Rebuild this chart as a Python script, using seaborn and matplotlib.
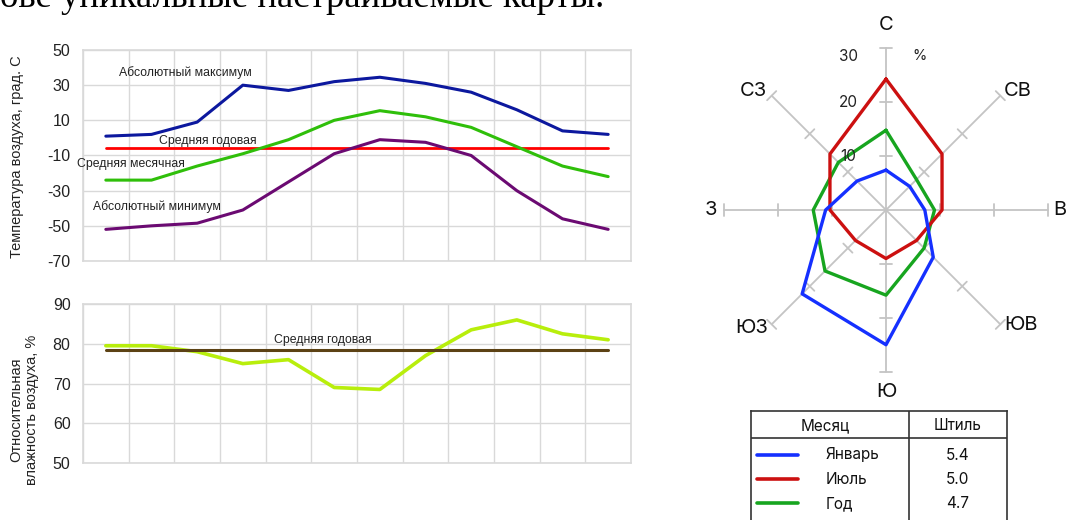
import numpy as np
import matplotlib
matplotlib.use("Agg")
import matplotlib.pyplot as plt
import seaborn as sns

# ---------------- data ----------------
months = list(range(1, 13))
abs_max = [1, 2, 9, 30, 27, 32, 34.5, 31, 26, 16, 4, 2]
mean_monthly = [-24, -24, -16, -9, -1, 10, 15.5, 12, 6, -5, -16, -22]
abs_min = [-52, -50, -48.5, -41, -25, -9, -1, -2.5, -10, -30, -46, -52]
annual_mean_temp = -6
humidity = [79.5, 79.5, 78, 75, 76, 69, 68.5, 77, 83.5, 86, 82.5, 81]
annual_mean_humidity = 78.5
temp_ticks = [-70, -50, -30, -10, 10, 30, 50]
hum_ticks = [50, 60, 70, 80, 90]

directions = ["С", "СВ", "В", "ЮВ", "Ю", "ЮЗ", "З", "СЗ"]
wind_jan = [7.4, 6.2, 7.2, 12.4, 25, 22, 11.2, 7.6]
wind_jul = [24.3, 14.7, 10.4, 8, 9, 8, 10.4, 14.7]
wind_year = [14.8, 8, 9, 10, 15.8, 16, 13.5, 12.5]
radar_ticks = [10, 20, 30]
calm_labels = ["Январь", "Июль", "Год"]
calm_values = ["5.4", "5.0", "4.7"]

# ---------------- setup ----------------
sns.set_style("white")
plt.rcParams["font.family"] = ["Liberation Sans", "DejaVu Sans"]

W, H = 1067, 520
fig = plt.figure(figsize=(W / 100, H / 100), dpi=100)


def rect(l, t, r, b):
    return [l / W, 1 - b / H, (r - l) / W, (b - t) / H]


GRID = "#d9d9d9"


def style_axes(ax, yticks):
    ax.set_xlim(0.5, 12.5)
    ax.set_xticks(np.arange(0.5, 12.6, 1))
    ax.set_xticklabels([])
    ax.set_yticks(yticks)
    ax.set_yticklabels([str(t) for t in yticks], fontsize=11.5, color="#222222")
    ax.tick_params(axis="both", length=0, pad=9)
    ax.grid(True, color=GRID, lw=1)
    for s in ax.spines.values():
        s.set_color(GRID)
        s.set_linewidth(1.2)
    ax.set_xlabel("")
    ax.set_ylabel("")


# ---------------- temperature chart ----------------
ax1 = fig.add_axes(rect(83, 50, 631, 261))
sns.lineplot(x=[months[0], months[-1]], y=[annual_mean_temp] * 2, ax=ax1,
             color="#ff0000", lw=2.0)
sns.lineplot(x=months, y=abs_max, ax=ax1, color="#0c189e", lw=2.2)
sns.lineplot(x=months, y=mean_monthly, ax=ax1, color="#2fbf0a", lw=2.2)
sns.lineplot(x=months, y=abs_min, ax=ax1, color="#6b0a72", lw=2.2)
ax1.set_ylim(-70, 50)
style_axes(ax1, temp_ticks)
lab_kw = dict(fontsize=8.8, color="#222222", ha="center", va="center")
ax1.text(2.75, 37, "Абсолютный максимум", **lab_kw)
ax1.text(3.23, -2, "Средняя годовая", **lab_kw)
ax1.text(1.55, -14.8, "Средняя месячная", **lab_kw)
ax1.text(2.12, -39.1, "Абсолютный минимум", **lab_kw)
fig.text(17 / W, 1 - 157 / H, "Температура воздуха, град. С", rotation=90,
         ha="center", va="center", fontsize=10.5, color="#222222")

# ---------------- humidity chart ----------------
ax2 = fig.add_axes(rect(83, 304, 631, 463))
sns.lineplot(x=months, y=humidity, ax=ax2, color="#b8ee0c", lw=2.6)
sns.lineplot(x=[months[0], months[-1]], y=[annual_mean_humidity] * 2, ax=ax2,
             color="#5c4214", lw=2.2)
ax2.set_ylim(50, 90)
style_axes(ax2, hum_ticks)
ax2.text(5.75, 80.9, "Средняя годовая", **lab_kw)
fig.text(24 / W, 1 - 410 / H, "Относительная\nвлажность воздуха, %", rotation=90,
         ha="center", va="center", fontsize=10.5, color="#222222",
         multialignment="center", linespacing=1.2)

# ---------------- wind rose ----------------
cx, cy, R = 886, 210, 161.7
ax3 = fig.add_axes(rect(cx - R, cy - R, cx + R, cy + R), projection="polar")
ax3.set_theta_zero_location("N")
ax3.set_theta_direction(-1)
ax3.set_ylim(0, 30)
ax3.set_axis_off()
angles = list(np.deg2rad(np.arange(0, 360, 45)))
SPOKE = "#c4c4c4"
h = 1.2
for th in angles:
    ax3.plot([th, th], [0, 30], color=SPOKE, lw=1.3, clip_on=False)
    for r in radar_ticks:
        d = np.arctan(h / r)
        rr = np.hypot(r, h)
        ax3.plot([th - d, th + d], [rr, rr], color=SPOKE, lw=1.3, clip_on=False)

theta_closed = angles + [angles[0] + 2 * np.pi]
for vals, col in [(wind_year, "#17a51f"), (wind_jul, "#cc1010"), (wind_jan, "#1530ff")]:
    sns.lineplot(x=theta_closed, y=vals + [vals[0]], ax=ax3, sort=False,
                 estimator=None, color=col, lw=2.4)

label_pos = [(0, 34.3), (48, 33), (90, 32.2), (130.4, 32.9), (180, 33.8),
             (228.8, 33.2), (270, 32.5), (312, 33)]
for name, (adeg, rr) in zip(directions, label_pos):
    ax3.text(np.deg2rad(adeg), rr, name, ha="center", va="center",
             fontsize=14.5, color="#111111", family=["Inter", "DejaVu Sans"])
tick_offsets = {10: 0, 20: 0, 30: -8}
for t in radar_ticks:
    ax3.annotate(str(t), xy=(0, t), xytext=(-38, tick_offsets[t]),
                 textcoords="offset pixels", ha="center", va="center",
                 fontsize=11, color="#222222", family=["Inter", "DejaVu Sans"])
ax3.annotate("%", xy=(0, 30), xytext=(33, -8), textcoords="offset pixels",
             ha="center", va="center", fontsize=10.5, color="#222222",
             family=["Inter", "DejaVu Sans"])

# ---------------- calm table ----------------
tl, tt, tr, tb = 750.7, 410.7, 1006.7, 540
ax4 = fig.add_axes(rect(tl, tt, tr, tb))
ax4.set_xlim(0, tr - tl)
ax4.set_ylim(tb - tt, 0)
ax4.set_xticks([])
ax4.set_yticks([])
for s in ax4.spines.values():
    s.set_color("#333333")
    s.set_linewidth(1.2)
ax4.axhline(27.6, color="#333333", lw=1.2)
ax4.axvline(158.6, color="#333333", lw=1.2)
tkw = dict(fontsize=11, color="#111111", va="center", family=["Inter", "DejaVu Sans"])
ax4.text(74.3, 15, "Месяц", ha="center", **tkw)
ax4.text(207, 15, "Штиль", ha="center", **tkw)
row_y = [44.3, 68.3, 92.6]
for lbl, val, yy, col in zip(calm_labels, calm_values, row_y,
                             ["#1530ff", "#cc1010", "#17a51f"]):
    ax4.plot([6.3, 47.3], [yy, yy], color=col, lw=2.6, solid_capstyle="round")
    ax4.text(75.3, yy, lbl, ha="left", **tkw)
    ax4.text(207, yy, val, ha="center", **tkw)

# ---------------- clipped heading text ----------------
fig.text(0, 1 - 7 / H, "ове уникальные настраиваемые карты.", ha="left",
         va="baseline", fontsize=26.5, color="#000000",
         family=["Liberation Serif", "DejaVu Serif"])

fig.savefig("out.png", dpi=100, facecolor="white")
